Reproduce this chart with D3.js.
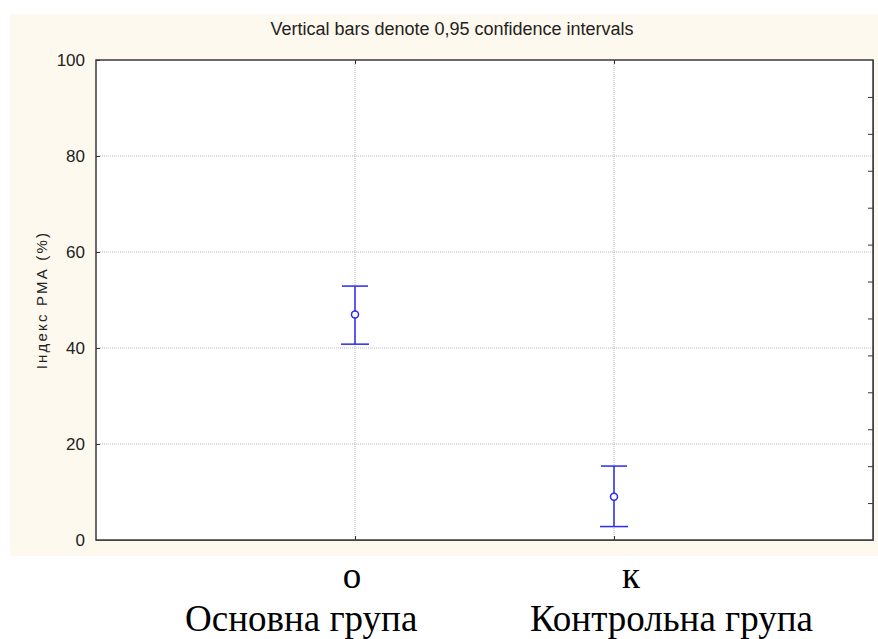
<!DOCTYPE html>
<html>
<head>
<meta charset="utf-8">
<script src="https://cdn.jsdelivr.net/npm/d3@7"></script>
<style>
  body { margin: 0; background: #fff; }
  svg text { font-family: "Liberation Sans", Arial, sans-serif; }
</style>
</head>
<body>
<div id="chart"></div>
<script>
// data
const groups = ["о", "к"];
const groupNames = ["Основна група", "Контрольна група"];
const means = [47.0, 9.0];
const lower = [40.8, 2.8];
const upper = [52.9, 15.4];
const yTicks = [0, 20, 40, 60, 80, 100];
const rightTicks = [1, 2, 3, 4, 5, 6, 7, 8, 9, 10, 11, 12];

const W = 878, H = 639;
const margin = {left: 96, top: 60, right: 5, bottom: 99};
const width = W - margin.left - margin.right;
const height = H - margin.top - margin.bottom;

const svg = d3.select("#chart").append("svg")
    .attr("width", W)
    .attr("height", H);

// beige panel
svg.append("rect")
    .attr("x", 10).attr("y", 14)
    .attr("width", W - 10).attr("height", 542)
    .attr("fill", "#fdf9ee");

const g = svg.append("g")
    .attr("transform", "translate(" + margin.left + "," + margin.top + ")");

const x = d3.scalePoint().domain(groups).range([0, width]).padding(1);
const y = d3.scaleLinear().domain([0, 100]).range([height, 0]);
const yR = d3.scaleLinear().domain([0, 13]).range([height, 0]);

g.append("rect")
    .attr("width", width).attr("height", height)
    .attr("fill", "#fff");

// dotted grid
g.append("g").selectAll("line")
    .data(yTicks.filter(d => d > 0 && d < 100))
    .enter().append("line")
    .attr("x1", 0).attr("x2", width)
    .attr("y1", d => y(d)).attr("y2", d => y(d))
    .attr("stroke", "#b8b8b8")
    .attr("stroke-dasharray", "1,1");

g.append("g").selectAll("line")
    .data(groups)
    .enter().append("line")
    .attr("x1", d => x(d)).attr("x2", d => x(d))
    .attr("y1", 0).attr("y2", height)
    .attr("stroke", "#b8b8b8")
    .attr("stroke-dasharray", "1,1");

// left axis
const yAxis = d3.axisLeft(y).tickValues(yTicks).tickSizeInner(-4).tickSizeOuter(0).tickPadding(11);
const ya = g.append("g").call(yAxis);
ya.select(".domain").remove();
ya.selectAll("line").attr("stroke", "#333");
ya.selectAll("text")
    .attr("font-size", 17)
    .attr("fill", "#222");

// right axis minor ticks
const ra = g.append("g").attr("transform", "translate(" + width + ",0)")
    .call(d3.axisRight(yR).tickValues(rightTicks).tickSize(-5).tickFormat(""));
ra.select(".domain").remove();
ra.selectAll("line").attr("stroke", "#333");

// top and bottom ticks at groups
const ba = g.append("g").attr("transform", "translate(0," + height + ")")
    .call(d3.axisBottom(x).tickSize(-4).tickFormat(""));
ba.select(".domain").remove();
ba.selectAll("line").attr("stroke", "#333");
const ta = g.append("g")
    .call(d3.axisTop(x).tickSize(-4).tickFormat(""));
ta.select(".domain").remove();
ta.selectAll("line").attr("stroke", "#333");

// frame
g.append("rect")
    .attr("width", width).attr("height", height)
    .attr("fill", "none")
    .attr("stroke", "#3a3a3a")
    .attr("stroke-width", 1.5);
g.append("path")
    .attr("d", "M0," + (height + 0.5) + "H" + (width + 0.5) + "V0")
    .attr("fill", "none")
    .attr("stroke", "#444")
    .attr("stroke-width", 1);

// error bars
const blue = "#2a2af0";
const idx = groups.map((d, i) => i);
const eb = g.append("g").selectAll("g")
    .data(idx)
    .enter().append("g")
    .attr("transform", i => "translate(" + x(groups[i]) + ",0)");

eb.append("line")
    .attr("y1", i => y(upper[i])).attr("y2", i => y(lower[i]))
    .attr("stroke", blue).attr("stroke-width", 1.5);
eb.append("line")
    .attr("x1", -13).attr("x2", 13)
    .attr("y1", i => y(upper[i])).attr("y2", i => y(upper[i]))
    .attr("stroke", blue).attr("stroke-width", 1.5);
eb.append("line")
    .attr("x1", -14).attr("x2", 14)
    .attr("y1", i => y(lower[i])).attr("y2", i => y(lower[i]))
    .attr("stroke", blue).attr("stroke-width", 1.5);
eb.append("circle")
    .attr("cy", i => y(means[i]))
    .attr("r", 3.5)
    .attr("fill", "#fff")
    .attr("stroke", blue).attr("stroke-width", 1.5);

// title
svg.append("text")
    .attr("x", 452).attr("y", 35)
    .attr("text-anchor", "middle")
    .attr("font-size", 18)
    .attr("fill", "#222")
    .text("Vertical bars denote 0,95 confidence intervals");

// y label
svg.append("text")
    .attr("transform", "translate(47,300) rotate(-90)")
    .attr("text-anchor", "middle")
    .attr("font-size", 15)
    .attr("letter-spacing", 2.2)
    .attr("fill", "#222")
    .text("Індекс РМА (%)");

// category labels typed below the chart
const serif = "'Liberation Serif', 'Times New Roman', serif";
const codeX = [352, 631];
const nameX = [185, 530];
svg.append("g").selectAll("text")
    .data(idx)
    .enter().append("text")
    .attr("x", i => codeX[i])
    .attr("y", 588)
    .attr("text-anchor", "middle")
    .style("font-family", serif)
    .attr("font-size", 37)
    .text(i => groups[i]);
svg.append("g").selectAll("text")
    .data(idx)
    .enter().append("text")
    .attr("x", i => nameX[i])
    .attr("y", 631)
    .style("font-family", serif)
    .attr("font-size", 37)
    .text(i => groupNames[i]);
</script>
</body>
</html>
